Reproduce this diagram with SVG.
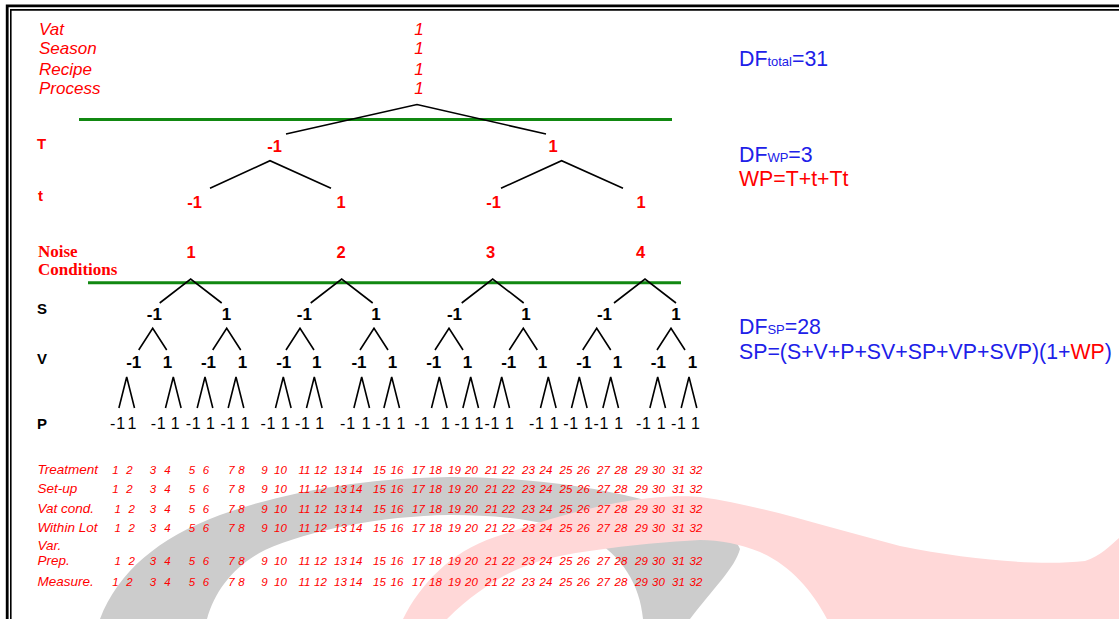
<svg xmlns="http://www.w3.org/2000/svg" width="1119" height="619" viewBox="0 0 1119 619">
  <style>
    .it17 { font: italic 17px "Liberation Sans", Arial, sans-serif; fill: #ff0000; }
    .rowT { font: bold 15px "Liberation Sans", Arial, sans-serif; fill: #ff0000; }
    .rowK { font: bold 15px "Liberation Sans", Arial, sans-serif; fill: #000; }
    .noise { font: bold 17px "Liberation Serif", "Times New Roman", serif; fill: #ff0000; }
    .rv { font: bold 16.5px "Liberation Sans", Arial, sans-serif; fill: #ff0000; text-anchor: middle; }
    .bv { font: bold 17px "Liberation Sans", Arial, sans-serif; fill: #000; text-anchor: middle; }
    .pv { font: 16px "Liberation Sans", Arial, sans-serif; fill: #000; text-anchor: middle; letter-spacing: 0.8px; }
    .tl { font: italic 13.5px "Liberation Sans", Arial, sans-serif; fill: #ff0000; }
    .tn { font: italic 11.5px "Liberation Sans", Arial, sans-serif; fill: #ff0000; text-anchor: middle; }
    .big { font: 21.3px "Liberation Sans", Arial, sans-serif; }
    .sub { font-size: 13px; }
    .blue { fill: #2020e8; }
    .red { fill: #ff0000; }
    .sep { stroke: #118811; stroke-width: 3; fill: none; }
    .conn { stroke: #000; stroke-width: 1.6; fill: none; stroke-linejoin: miter; }
    .frame { stroke: #000; fill: none; }
  </style>

  <rect width="1119" height="619" fill="#ffffff"/>

  <!-- watermark: grey arch with the pink swoosh laid across it -->
  <g id="watermark">
    <path fill="#cccccc" d="M100 619 C118 572 158 538 220 515 C290 490 370 478 450 477 C530 477 610 488 670 507 C712 521 735 535 740 549 C735 568 712 590 690 619 L643 619 C640 585 622 555 590 538 C550 520 500 515 450 515 C380 516 310 530 265 550 C235 565 215 590 207 619 Z"/>
    <path fill="#ffd8d8" d="M403 619 C420 585 450 552 495 537 C545 520 600 503 650 498 C670 496 690 496 700 497 C760 505 830 528 900 546 C970 560 1040 566 1085 561 C1100 556 1110 546 1119 538 L1119 619 L827 619 C812 590 790 565 760 552 C740 544 720 540 700 540 C660 542 600 548 560 556 C520 564 485 582 447 619 Z"/>
  </g>

  <!-- double frame on the top and left edges -->
  <g id="frame">
    <path class="frame" stroke-width="2.8" d="M7.2 619 V5.9 H1119"/>
    <path class="frame" stroke-width="1.6" d="M10.8 619 V9.9 H1119"/>
  </g>

  <!-- separators between plot levels -->
  <g id="separators">
    <line class="sep" x1="79" y1="119.5" x2="672" y2="119.5"/>
    <line class="sep" x1="88" y1="282.7" x2="681" y2="282.7"/>
  </g>

  <!-- tree branches -->
  <g id="connectors">
    <path class="conn" d="M286 134 L417 104.5 L546 134
      M210 188.3 L270 160.7 L331 188.3 M501 188.3 L561.6 160.7 L623 188.3
      M159.7 303 L190.7 279 L221.7 303 M310.7 303 L341.7 279 L372.7 303 M461.7 303 L492.7 279 L523.7 303 M614 303 L645 279 L676 303
      M138.7 350 L152.7 328.3 L166.7 350 M212.7 350 L226.7 328.3 L240.7 350 M286 350 L300 328.3 L314 350 M360 350 L374 328.3 L388 350
      M435 350 L449 328.3 L463 350 M509.3 350 L523.3 328.3 L537.3 350 M582.7 350 L596.7 328.3 L610.7 350 M657 350 L671 328.3 L685 350
      M118.9 408 L126.7 377 L134.5 408 M165.5 408 L173.3 377 L181.1 408 M197.2 408 L205 377 L212.8 408 M228.2 408 L236 377 L243.8 408
      M275.5 408 L283.3 377 L291.1 408 M306.5 408 L314.3 377 L322.1 408 M353.9 408 L361.7 377 L369.5 408 M383.9 408 L391.7 377 L399.5 408
      M431.5 408 L439.3 377 L447.1 408 M462.9 408 L470.7 377 L478.5 408 M493.9 408 L501.7 377 L509.5 408 M540.5 408 L548.3 377 L556.1 408
      M571.5 408 L579.3 377 L587.1 408 M602.9 408 L610.7 377 L618.5 408 M649.9 408 L657.7 377 L665.5 408 M681.2 408 L689 377 L696.8 408"/>
  </g>

  <!-- level names -->
  <g id="level-labels">
    <text class="it17" x="39" y="35">Vat</text>
    <text class="it17" x="39" y="54.3">Season</text>
    <text class="it17" x="39" y="75">Recipe</text>
    <text class="it17" x="39" y="94.3">Process</text>
    <text class="rowT" x="37" y="148.5">T</text>
    <text class="rowT" x="38" y="200.5">t</text>
    <text class="noise" x="38" y="256.7">Noise</text>
    <text class="noise" x="38" y="275">Conditions</text>
    <text class="rowK" x="37" y="314">S</text>
    <text class="rowK" x="37" y="363.5">V</text>
    <text class="rowK" x="37" y="428.5">P</text>
  </g>

  <!-- whole-plot root -->
  <g id="node-root">
    <text class="it17" x="419" y="35" text-anchor="middle">1</text>
    <text class="it17" x="419" y="54.3" text-anchor="middle">1</text>
    <text class="it17" x="419" y="75" text-anchor="middle">1</text>
    <text class="it17" x="419" y="94.3" text-anchor="middle">1</text>
  </g>

  <!-- T level -->
  <g id="node-T1"><text class="rv" x="274.5" y="152">-1</text></g>
  <g id="node-T2"><text class="rv" x="553" y="152">1</text></g>

  <!-- t level -->
  <g id="node-t1"><text class="rv" x="194.5" y="208">-1</text></g>
  <g id="node-t2"><text class="rv" x="341" y="208">1</text></g>
  <g id="node-t3"><text class="rv" x="493.5" y="208">-1</text></g>
  <g id="node-t4"><text class="rv" x="641" y="208">1</text></g>

  <!-- noise conditions -->
  <g id="node-nc1"><text class="rv" x="191" y="258">1</text></g>
  <g id="node-nc2"><text class="rv" x="341" y="258">2</text></g>
  <g id="node-nc3"><text class="rv" x="490.6" y="258">3</text></g>
  <g id="node-nc4"><text class="rv" x="640.5" y="258">4</text></g>

  <!-- S level -->
  <g id="node-S1"><text class="bv" x="154.3" y="320">-1</text></g>
  <g id="node-S2"><text class="bv" x="226.5" y="320">1</text></g>
  <g id="node-S3"><text class="bv" x="304.3" y="320">-1</text></g>
  <g id="node-S4"><text class="bv" x="376" y="320">1</text></g>
  <g id="node-S5"><text class="bv" x="454.5" y="320">-1</text></g>
  <g id="node-S6"><text class="bv" x="526" y="320">1</text></g>
  <g id="node-S7"><text class="bv" x="604.5" y="320">-1</text></g>
  <g id="node-S8"><text class="bv" x="676" y="320">1</text></g>

  <!-- V level -->
  <g id="node-V1"><text class="bv" x="133.7" y="368">-1</text></g>
  <g id="node-V2"><text class="bv" x="167.5" y="368">1</text></g>
  <g id="node-V3"><text class="bv" x="208.5" y="368">-1</text></g>
  <g id="node-V4"><text class="bv" x="242.5" y="368">1</text></g>
  <g id="node-V5"><text class="bv" x="283.7" y="368">-1</text></g>
  <g id="node-V6"><text class="bv" x="316.8" y="368">1</text></g>
  <g id="node-V7"><text class="bv" x="359" y="368">-1</text></g>
  <g id="node-V8"><text class="bv" x="392.5" y="368">1</text></g>
  <g id="node-V9"><text class="bv" x="433.7" y="368">-1</text></g>
  <g id="node-V10"><text class="bv" x="467.5" y="368">1</text></g>
  <g id="node-V11"><text class="bv" x="508.7" y="368">-1</text></g>
  <g id="node-V12"><text class="bv" x="542.5" y="368">1</text></g>
  <g id="node-V13"><text class="bv" x="583.7" y="368">-1</text></g>
  <g id="node-V14"><text class="bv" x="617.5" y="368">1</text></g>
  <g id="node-V15"><text class="bv" x="658.3" y="368">-1</text></g>
  <g id="node-V16"><text class="bv" x="692.5" y="368">1</text></g>

  <!-- P level leaves -->
  <g id="node-P1"><text class="pv" x="118" y="428.5">-1</text></g>
  <g id="node-P2"><text class="pv" x="132.4" y="428.5">1</text></g>
  <g id="node-P3"><text class="pv" x="158.6" y="428.5">-1</text></g>
  <g id="node-P4"><text class="pv" x="175.6" y="428.5">1</text></g>
  <g id="node-P5"><text class="pv" x="193.6" y="428.5">-1</text></g>
  <g id="node-P6"><text class="pv" x="210.8" y="428.5">1</text></g>
  <g id="node-P7"><text class="pv" x="228.3" y="428.5">-1</text></g>
  <g id="node-P8"><text class="pv" x="245.6" y="428.5">1</text></g>
  <g id="node-P9"><text class="pv" x="268.3" y="428.5">-1</text></g>
  <g id="node-P10"><text class="pv" x="285.8" y="428.5">1</text></g>
  <g id="node-P11"><text class="pv" x="302.8" y="428.5">-1</text></g>
  <g id="node-P12"><text class="pv" x="320" y="428.5">1</text></g>
  <g id="node-P13"><text class="pv" x="348" y="428.5">-1</text></g>
  <g id="node-P14"><text class="pv" x="366.6" y="428.5">1</text></g>
  <g id="node-P15"><text class="pv" x="383.5" y="428.5">-1</text></g>
  <g id="node-P16"><text class="pv" x="401.3" y="428.5">1</text></g>
  <g id="node-P17"><text class="pv" x="422.5" y="428.5">-1</text></g>
  <g id="node-P18"><text class="pv" x="445.8" y="428.5">1</text></g>
  <g id="node-P19"><text class="pv" x="462.5" y="428.5">-1</text></g>
  <g id="node-P20"><text class="pv" x="479.3" y="428.5">1</text></g>
  <g id="node-P21"><text class="pv" x="492.3" y="428.5">-1</text></g>
  <g id="node-P22"><text class="pv" x="509.8" y="428.5">1</text></g>
  <g id="node-P23"><text class="pv" x="536.8" y="428.5">-1</text></g>
  <g id="node-P24"><text class="pv" x="554.5" y="428.5">1</text></g>
  <g id="node-P25"><text class="pv" x="571.1" y="428.5">-1</text></g>
  <g id="node-P26"><text class="pv" x="588.8" y="428.5">1</text></g>
  <g id="node-P27"><text class="pv" x="601.3" y="428.5">-1</text></g>
  <g id="node-P28"><text class="pv" x="619.2" y="428.5">1</text></g>
  <g id="node-P29"><text class="pv" x="643.8" y="428.5">-1</text></g>
  <g id="node-P30"><text class="pv" x="661.6" y="428.5">1</text></g>
  <g id="node-P31"><text class="pv" x="678.8" y="428.5">-1</text></g>
  <g id="node-P32"><text class="pv" x="695.8" y="428.5">1</text></g>

  <!-- run order table -->
  <g id="table-labels">
    <text class="tl" x="37.5" y="474.3">Treatment</text>
    <text class="tl" x="37.5" y="493">Set-up</text>
    <text class="tl" x="37.5" y="512.5">Vat cond.</text>
    <text class="tl" x="37.5" y="531.5">Within Lot</text>
    <text class="tl" x="37.5" y="550">Var.</text>
    <text class="tl" x="37.5" y="564.7">Prep.</text>
    <text class="tl" x="37.5" y="585.7">Measure.</text>
  </g>

  <g id="table-numbers">
    <text class="tn" y="474.3"><tspan x="115.5">1</tspan><tspan x="129.5">2</tspan><tspan x="153">3</tspan><tspan x="167.5">4</tspan><tspan x="192">5</tspan><tspan x="206">6</tspan><tspan x="231.5">7</tspan><tspan x="241.5">8</tspan><tspan x="264.5">9</tspan><tspan x="280.5">10</tspan><tspan x="304.5">11</tspan><tspan x="320.5">12</tspan><tspan x="340.5">13</tspan><tspan x="356">14</tspan><tspan x="379.5">15</tspan><tspan x="397">16</tspan><tspan x="418.5">17</tspan><tspan x="435.5">18</tspan><tspan x="454.5">19</tspan><tspan x="471.5">20</tspan><tspan x="491.5">21</tspan><tspan x="508.5">22</tspan><tspan x="528.5">23</tspan><tspan x="546">24</tspan><tspan x="566">25</tspan><tspan x="583.5">26</tspan><tspan x="603.5">27</tspan><tspan x="621">28</tspan><tspan x="641.5">29</tspan><tspan x="658.5">30</tspan><tspan x="678.5">31</tspan><tspan x="696">32</tspan></text>
    <text class="tn" y="493"><tspan x="115.5">1</tspan><tspan x="129.5">2</tspan><tspan x="153">3</tspan><tspan x="167.5">4</tspan><tspan x="192">5</tspan><tspan x="206">6</tspan><tspan x="231.5">7</tspan><tspan x="241.5">8</tspan><tspan x="264.5">9</tspan><tspan x="280.5">10</tspan><tspan x="304.5">11</tspan><tspan x="320.5">12</tspan><tspan x="340.5">13</tspan><tspan x="356">14</tspan><tspan x="379.5">15</tspan><tspan x="397">16</tspan><tspan x="418.5">17</tspan><tspan x="435.5">18</tspan><tspan x="454.5">19</tspan><tspan x="471.5">20</tspan><tspan x="491.5">21</tspan><tspan x="508.5">22</tspan><tspan x="528.5">23</tspan><tspan x="546">24</tspan><tspan x="566">25</tspan><tspan x="583.5">26</tspan><tspan x="603.5">27</tspan><tspan x="621">28</tspan><tspan x="641.5">29</tspan><tspan x="658.5">30</tspan><tspan x="678.5">31</tspan><tspan x="696">32</tspan></text>
    <text class="tn" y="512.5"><tspan x="117.8">1</tspan><tspan x="131.8">2</tspan><tspan x="153">3</tspan><tspan x="167.5">4</tspan><tspan x="192">5</tspan><tspan x="206">6</tspan><tspan x="231.5">7</tspan><tspan x="241.5">8</tspan><tspan x="264.5">9</tspan><tspan x="280.5">10</tspan><tspan x="304.5">11</tspan><tspan x="320.5">12</tspan><tspan x="340.5">13</tspan><tspan x="356">14</tspan><tspan x="379.5">15</tspan><tspan x="397">16</tspan><tspan x="418.5">17</tspan><tspan x="435.5">18</tspan><tspan x="454.5">19</tspan><tspan x="471.5">20</tspan><tspan x="491.5">21</tspan><tspan x="508.5">22</tspan><tspan x="528.5">23</tspan><tspan x="546">24</tspan><tspan x="566">25</tspan><tspan x="583.5">26</tspan><tspan x="603.5">27</tspan><tspan x="621">28</tspan><tspan x="641.5">29</tspan><tspan x="658.5">30</tspan><tspan x="678.5">31</tspan><tspan x="696">32</tspan></text>
    <text class="tn" y="531.5"><tspan x="117.8">1</tspan><tspan x="131.8">2</tspan><tspan x="153">3</tspan><tspan x="167.5">4</tspan><tspan x="192">5</tspan><tspan x="206">6</tspan><tspan x="231.5">7</tspan><tspan x="241.5">8</tspan><tspan x="264.5">9</tspan><tspan x="280.5">10</tspan><tspan x="304.5">11</tspan><tspan x="320.5">12</tspan><tspan x="340.5">13</tspan><tspan x="356">14</tspan><tspan x="379.5">15</tspan><tspan x="397">16</tspan><tspan x="418.5">17</tspan><tspan x="435.5">18</tspan><tspan x="454.5">19</tspan><tspan x="471.5">20</tspan><tspan x="491.5">21</tspan><tspan x="508.5">22</tspan><tspan x="528.5">23</tspan><tspan x="546">24</tspan><tspan x="566">25</tspan><tspan x="583.5">26</tspan><tspan x="603.5">27</tspan><tspan x="621">28</tspan><tspan x="641.5">29</tspan><tspan x="658.5">30</tspan><tspan x="678.5">31</tspan><tspan x="696">32</tspan></text>
    <text class="tn" y="564.7"><tspan x="117.8">1</tspan><tspan x="131.8">2</tspan><tspan x="153">3</tspan><tspan x="167.5">4</tspan><tspan x="192">5</tspan><tspan x="206">6</tspan><tspan x="231.5">7</tspan><tspan x="241.5">8</tspan><tspan x="264.5">9</tspan><tspan x="280.5">10</tspan><tspan x="304.5">11</tspan><tspan x="320.5">12</tspan><tspan x="340.5">13</tspan><tspan x="356">14</tspan><tspan x="379.5">15</tspan><tspan x="397">16</tspan><tspan x="418.5">17</tspan><tspan x="435.5">18</tspan><tspan x="454.5">19</tspan><tspan x="471.5">20</tspan><tspan x="491.5">21</tspan><tspan x="508.5">22</tspan><tspan x="528.5">23</tspan><tspan x="546">24</tspan><tspan x="566">25</tspan><tspan x="583.5">26</tspan><tspan x="603.5">27</tspan><tspan x="621">28</tspan><tspan x="641.5">29</tspan><tspan x="658.5">30</tspan><tspan x="678.5">31</tspan><tspan x="696">32</tspan></text>
    <text class="tn" y="585.7"><tspan x="115.5">1</tspan><tspan x="129.5">2</tspan><tspan x="153">3</tspan><tspan x="167.5">4</tspan><tspan x="192">5</tspan><tspan x="206">6</tspan><tspan x="231.5">7</tspan><tspan x="241.5">8</tspan><tspan x="264.5">9</tspan><tspan x="280.5">10</tspan><tspan x="304.5">11</tspan><tspan x="320.5">12</tspan><tspan x="340.5">13</tspan><tspan x="356">14</tspan><tspan x="379.5">15</tspan><tspan x="397">16</tspan><tspan x="418.5">17</tspan><tspan x="435.5">18</tspan><tspan x="454.5">19</tspan><tspan x="471.5">20</tspan><tspan x="491.5">21</tspan><tspan x="508.5">22</tspan><tspan x="528.5">23</tspan><tspan x="546">24</tspan><tspan x="566">25</tspan><tspan x="583.5">26</tspan><tspan x="603.5">27</tspan><tspan x="621">28</tspan><tspan x="641.5">29</tspan><tspan x="658.5">30</tspan><tspan x="678.5">31</tspan><tspan x="696">32</tspan></text>
  </g>

  <!-- degrees of freedom notes -->
  <g id="df-total">
    <text class="big blue" x="739" y="66">DF<tspan class="sub">total</tspan>=31</text>
  </g>
  <g id="df-wp">
    <text class="big blue" x="739" y="161.7">DF<tspan class="sub">WP</tspan>=3</text>
    <text class="big red" x="739" y="186">WP=T+t+Tt</text>
  </g>
  <g id="df-sp">
    <text class="big blue" x="739" y="334">DF<tspan class="sub">SP</tspan>=28</text>
    <text class="big blue" x="739" y="358.5">SP=(S+V+P+SV+SP+VP+SVP)(1+<tspan class="red">WP</tspan>)</text>
  </g>
</svg>
